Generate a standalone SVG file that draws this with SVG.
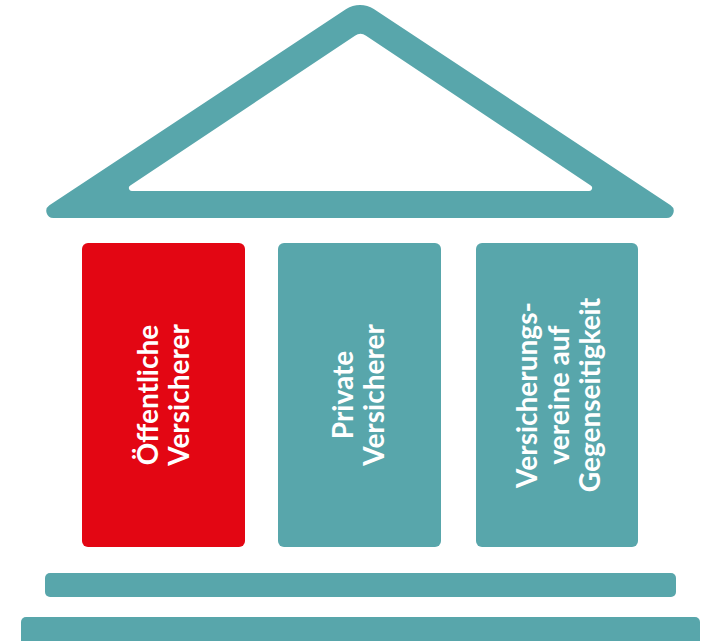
<svg xmlns="http://www.w3.org/2000/svg" width="712" height="641" viewBox="0 0 712 641">
<style>
.teal{fill:#58A6AB}
.red{fill:#E30613}
.lbl{font-family:Lato,"Open Sans","Liberation Sans",sans-serif;font-weight:bold;font-size:28px;fill:#FFFFFF;text-anchor:middle}
</style>
<rect width="712" height="641" fill="#FFFFFF"/>
<g id="roof">
<path class="teal" fill-rule="evenodd" d="M53.3,218 A7,7 0 0 1 49.4,205.2 L346.2,9.1 A25,25 0 0 1 373.8,9.1 L670.6,205.2 A7,7 0 0 1 666.7,218 Z M132,191 A3,3 0 0 1 130.3,185.45 L354.95,35.7 A10,10 0 0 1 366.05,35.7 L590.7,185.45 A3,3 0 0 1 589,191 Z"/>
</g>
<g id="node-oeffentliche">
<rect class="red" x="82" y="243" width="163" height="304" rx="6"/>
<g transform="rotate(-90 163.5 395)">
<text class="lbl" x="163.5" y="389.5">Öffentliche</text>
<text class="lbl" x="163.5" y="420.5">Versicherer</text>
</g>
</g>
<g id="node-private">
<rect class="teal" x="278" y="243" width="163" height="304" rx="6"/>
<g transform="rotate(-90 359.5 395)">
<text class="lbl" x="359.5" y="388.5">Private</text>
<text class="lbl" x="359.5" y="419.5">Versicherer</text>
</g>
</g>
<g id="node-vvag">
<rect class="teal" x="476" y="243" width="162" height="304" rx="6"/>
<g transform="rotate(-90 557 395)">
<text class="lbl" x="557" y="375">Versicherungs-</text>
<text class="lbl" x="557" y="406.5">vereine auf</text>
<text class="lbl" x="557" y="438">Gegenseitigkeit</text>
</g>
</g>
<g id="base">
<rect class="teal" x="45" y="573" width="631" height="24" rx="5"/>
<rect class="teal" x="21" y="617" width="679" height="32" rx="5"/>
</g>
<g id="connectors"/>
</svg>
